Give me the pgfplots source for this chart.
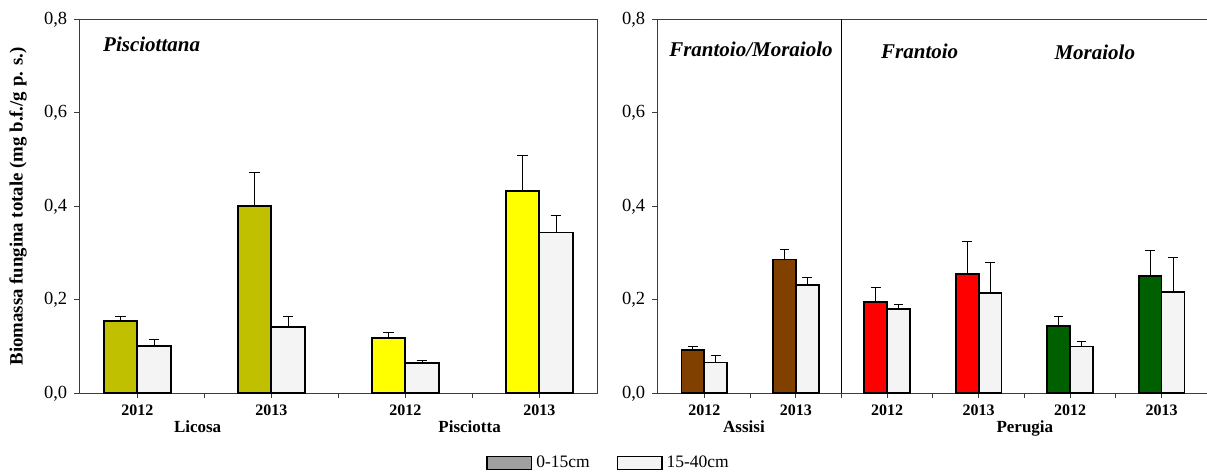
\documentclass[border=0pt]{standalone}
\usepackage{fontspec}
\setmainfont{Liberation Serif}
\usepackage{pgfplots}
\pgfplotsset{compat=1.18}
\definecolor{olivec}{RGB}{192,192,0}
\definecolor{yellowc}{RGB}{255,255,0}
\definecolor{brownc}{RGB}{128,64,0}
\definecolor{redc}{RGB}{255,0,0}
\definecolor{greenc}{RGB}{0,96,0}
\definecolor{legendgray}{RGB}{160,160,160}
\definecolor{dotfill}{RGB}{244,244,244}
\definecolor{axisc}{RGB}{60,60,60}
\pgfplotsset{
  base/.style={
    scale only axis, height=187pt, ymin=0, ymax=0.8,
    ytick={0,0.2,0.4,0.6,0.8},
    tick align=outside, major tick length=2.5pt, minor tick length=2.5pt,
    xtick pos=bottom, ytick pos=left,
    every tick/.style={axisc, line width=0.5pt},
    every minor tick/.style={axisc, line width=0.5pt},
    y tick label style={font=\fontsize{9.25}{10}\selectfont, /pgf/number format/.cd, fixed, fixed zerofill, precision=1, use comma, assume math mode=true},
    x tick label style={font=\bfseries\fontsize{8}{9}\selectfont},
    separate axis lines,
    every outer x axis line/.append style={draw=none},
    every outer y axis line/.append style={draw=none},
    clip=false,
  },
  bb/.style={ybar, bar width=0.25, bar shift=0pt, draw=black, line width=0.9pt, forget plot,
    error bars/y dir=plus, error bars/y explicit,
    error bars/error bar style={line width=0.5pt, black},
    error bars/error mark options={rotate=90, mark size=#1, line width=0.5pt, black}},
}
\begin{document}
\begin{tikzpicture}
\useasboundingbox (-39.65pt,-40.35pt) rectangle (563.85pt,196.65pt);
% ---------- left panel ----------
\begin{axis}[base, at={(0pt,0pt)}, anchor=south west, width=259pt,
  xmin=-0.433, xmax=3.433,
  xtick={0,1,2,3}, xticklabels={2012,2013,2012,2013},
  minor xtick={0.5,1.5,2.5},
  ylabel={Biomassa fungina totale (mg b.f./g p. s.)},
  ylabel style={font=\bfseries\fontsize{9.4}{10}\selectfont, at={(axis description cs:-0.1183,0.5)}, anchor=center},
  legend columns=2,
  legend style={draw=none, fill=none, inner sep=0pt, at={(0.7851,-0.1864)}, anchor=west,
    font=\fontsize{8.75}{10}\selectfont,
    /tikz/every even column/.append style={column sep=11.5pt}},
  legend image code/.code={\draw[#1, draw=black, line width=0.6pt] (0pt,-3.15pt) rectangle (22.35pt,3.15pt);},
]
\addlegendimage{fill=legendgray}
\addlegendentry{0-15cm}
\addlegendimage{fill=dotfill}
\addlegendentry{15-40cm}
\draw[axisc, line width=0.5pt] (rel axis cs:0,0) rectangle (rel axis cs:1,1);
% 0-15cm (left bar of each pair, centre at x-0.125)
\addplot[bb=2.7pt, fill=olivec] coordinates {(-0.125,0.154) +- (0,0.011) (0.875,0.401) +- (0,0.071)};
\addplot[bb=2.7pt, fill=yellowc] coordinates {(1.875,0.118) +- (0,0.013) (2.875,0.432) +- (0,0.077)};
% 15-40cm (right bar of each pair, centre at x+0.125)
\addplot[bb=2.7pt, fill=dotfill] coordinates {(0.125,0.102) +- (0,0.012) (1.125,0.142) +- (0,0.023) (2.125,0.064) +- (0,0.007) (3.125,0.344) +- (0,0.037)};
\node[font=\bfseries\fontsize{8.5}{10}\selectfont, anchor=base, yshift=-19.85pt] at (axis cs:0.45,0) {Licosa};
\node[font=\bfseries\fontsize{8.5}{10}\selectfont, anchor=base, yshift=-19.85pt] at (axis cs:2.48,0) {Pisciotta};
\node[font=\bfseries\itshape\fontsize{10.5}{12}\selectfont, anchor=base] at (axis cs:0.107,0.731) {Pisciottana};
\end{axis}
% ---------- right panel ----------
\begin{axis}[base, at={(289pt,0pt)}, anchor=south west, width=275pt,
  xmin=-0.514, xmax=5.5,
  xtick={0,1,2,3,4,5}, xticklabels={2012,2013,2012,2013,2012,2013},
  minor xtick={0.5,1.5,2.5,3.5,4.5},
]
\draw[axisc, line width=0.5pt] (rel axis cs:1,0) -- (rel axis cs:0,0) -- (rel axis cs:0,1) -- (rel axis cs:1,1);
\draw[black, line width=0.5pt] (axis cs:1.5,0) -- (axis cs:1.5,0.8);
\addplot[bb=2.4pt, fill=brownc] coordinates {(-0.125,0.092) +- (0,0.009) (0.875,0.286) +- (0,0.021)};
\addplot[bb=2.4pt, fill=redc] coordinates {(1.875,0.195) +- (0,0.031) (2.875,0.256) +- (0,0.068)};
\addplot[bb=2.4pt, fill=greenc] coordinates {(3.875,0.144) +- (0,0.020) (4.875,0.251) +- (0,0.054)};
\addplot[bb=2.4pt, fill=dotfill] coordinates {(0.125,0.066) +- (0,0.014) (1.125,0.231) +- (0,0.017) (2.125,0.181) +- (0,0.009) (3.125,0.215) +- (0,0.064) (4.125,0.100) +- (0,0.011) (5.125,0.216) +- (0,0.074)};
\node[font=\bfseries\fontsize{8.5}{10}\selectfont, anchor=base, yshift=-19.85pt] at (axis cs:0.434,0) {Assisi};
\node[font=\bfseries\fontsize{8.5}{10}\selectfont, anchor=base, yshift=-19.85pt] at (axis cs:3.505,0) {Perugia};
\node[font=\bfseries\itshape\fontsize{10.5}{12}\selectfont, anchor=base] at (axis cs:0.51,0.72) {Frantoio/Moraiolo};
\node[font=\bfseries\itshape\fontsize{10.5}{12}\selectfont, anchor=base] at (axis cs:2.355,0.717) {Frantoio};
\node[font=\bfseries\itshape\fontsize{10.5}{12}\selectfont, anchor=base] at (axis cs:4.27,0.713) {Moraiolo};
\end{axis}
\end{tikzpicture}
\end{document}
